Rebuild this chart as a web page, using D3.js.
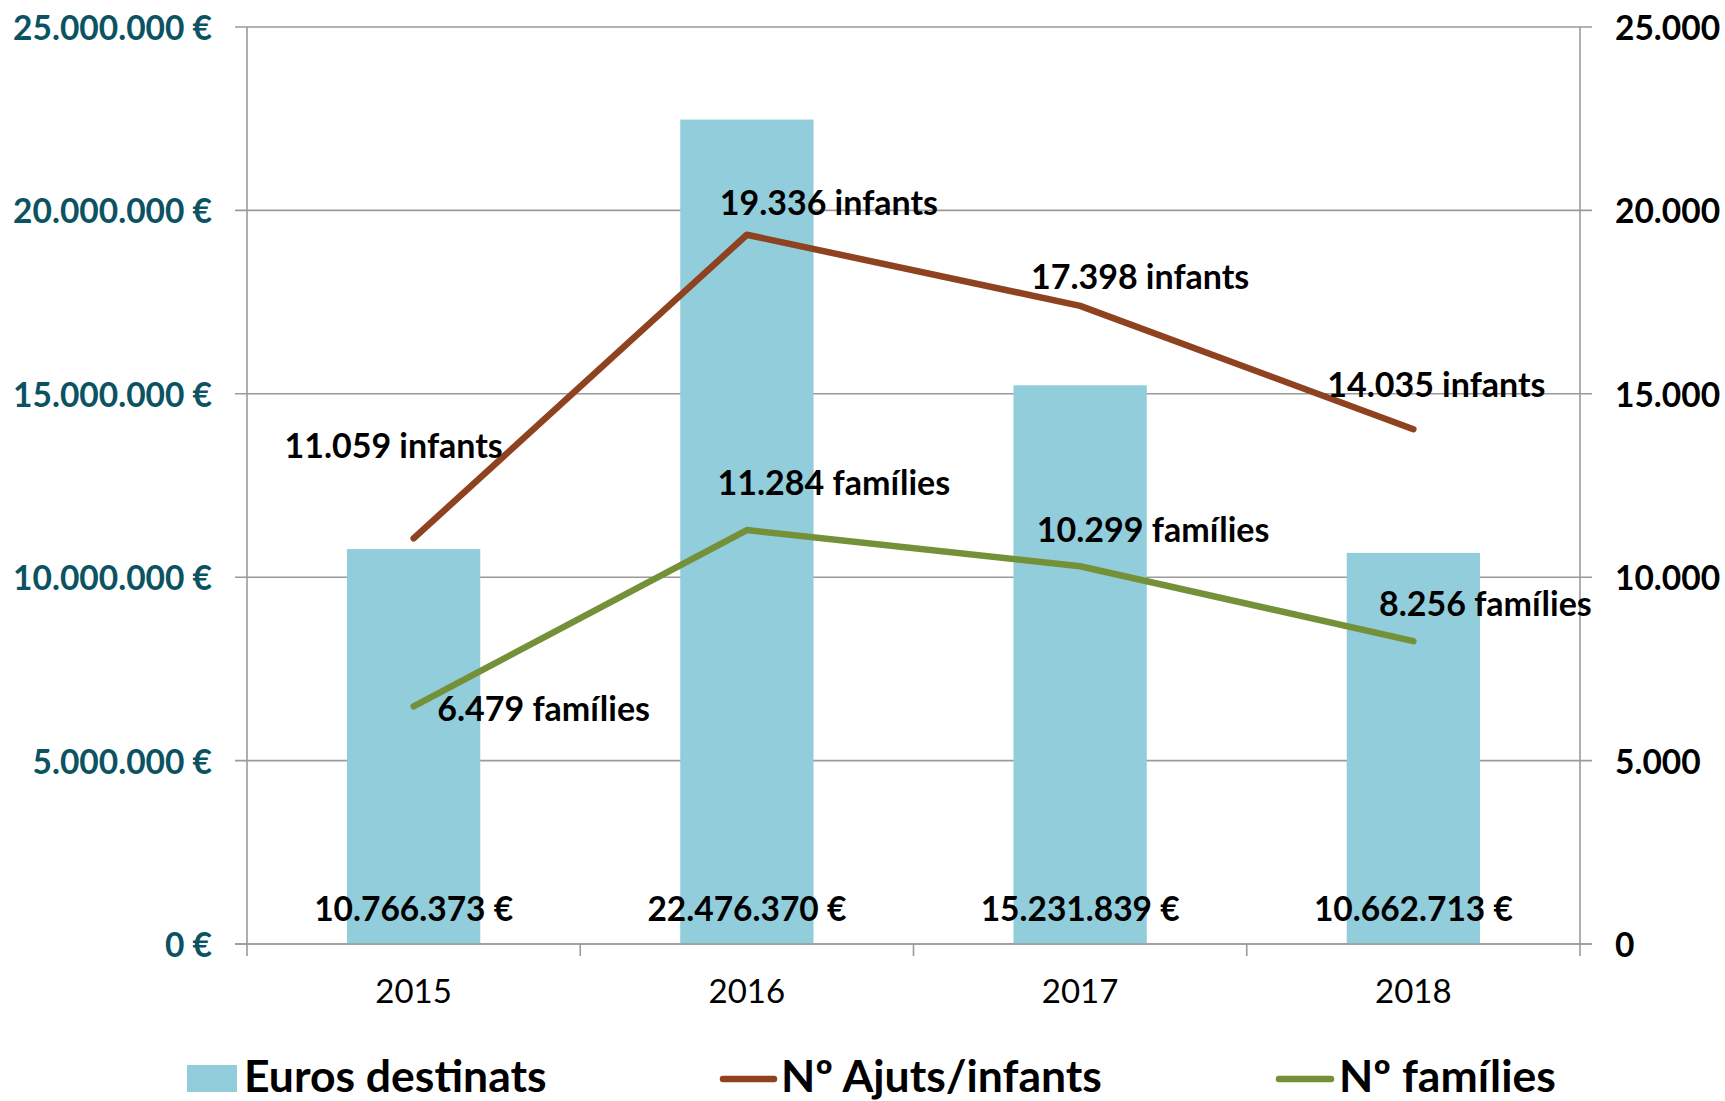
<!DOCTYPE html>
<html>
<head>
<meta charset="utf-8">
<script src="https://cdn.jsdelivr.net/npm/d3@7"></script>
<style>
  html, body { margin: 0; padding: 0; background: #fff; }
  svg { display: block; font-family: Lato, "Open Sans", sans-serif; }
</style>
</head>
<body>
<svg id="chart" width="1725" height="1101"></svg>
<script>
// ---- Data ----
const years = ["2015", "2016", "2017", "2018"];
const euros = [10766373, 22476370, 15231839, 10662713];
const infants = [11059, 19336, 17398, 14035];
const families = [6479, 11284, 10299, 8256];
const leftTicks = [0, 5000000, 10000000, 15000000, 20000000, 25000000];
const rightTicks = [0, 5000, 10000, 15000, 20000, 25000];
const legendLabels = ["Euros destinats", "Nº Ajuts/infants", "Nº famílies"];

// label offsets (layout, pixels from the point)
const infantLabelOffsets = [[-20, -94], [82, -33], [60, -30], [23, -46]];
const familyLabelOffsets = [[130, 1], [87, -49], [73, -38], [72, -39]];

// ---- Styles ----
const barColor = "#92cddc";
const infantColor = "#8f421f";
const familyColor = "#74913a";
const gridColor = "#9a9a9a";
const leftLabelColor = "#0b5363";

const svg = d3.select("#chart");
const pLeft = 247, pRight = 1580, pTop = 27, pBottom = 944;

const fmt = d3.formatLocale({decimal: ",", thousands: ".", grouping: [3], currency: ["", " €"]});
const fmtInt = fmt.format(",d");

const x = d3.scaleBand().domain(years).range([pLeft, pRight]).paddingInner(0.6).paddingOuter(0.3);
const xStep = d3.scaleBand().domain(years).range([pLeft, pRight]).padding(0);
const yL = d3.scaleLinear().domain([0, 25000000]).range([pBottom, pTop]);
const yR = d3.scaleLinear().domain([0, 25000]).range([pBottom, pTop]);
const cx = d => x(d) + x.bandwidth() / 2;

// gridlines
svg.append("g").selectAll("line").data(leftTicks).join("line")
  .attr("x1", pLeft - 12).attr("x2", pRight + 12)
  .attr("y1", d => yL(d)).attr("y2", d => yL(d))
  .attr("stroke", gridColor).attr("stroke-width", 1.6);

// bars
svg.append("g").selectAll("rect").data(euros).join("rect")
  .attr("x", (d, i) => x(years[i]))
  .attr("width", x.bandwidth())
  .attr("y", d => yL(d))
  .attr("height", d => yL(0) - yL(d))
  .attr("fill", barColor);

// axes lines
const axisG = svg.append("g").attr("stroke", gridColor).attr("stroke-width", 1.6);
axisG.append("line").attr("x1", pLeft).attr("x2", pLeft).attr("y1", pTop).attr("y2", pBottom + 12);
axisG.append("line").attr("x1", pRight).attr("x2", pRight).attr("y1", pTop).attr("y2", pBottom + 12);
axisG.append("line").attr("x1", pLeft - 12).attr("x2", pRight + 12).attr("y1", pBottom).attr("y2", pBottom);
axisG.selectAll(".xt").data(years.slice(1)).join("line").attr("class", "xt")
  .attr("x1", d => xStep(d)).attr("x2", d => xStep(d))
  .attr("y1", pBottom).attr("y2", pBottom + 12);

// left axis labels
svg.append("g").selectAll("text").data(leftTicks).join("text")
  .attr("x", 212).attr("y", d => yL(d))
  .attr("text-anchor", "end").attr("dominant-baseline", "central")
  .attr("font-size", 33.5).attr("font-weight", 700).attr("fill", leftLabelColor)
  .text(d => fmtInt(d) + " €");

// right axis labels
svg.append("g").selectAll("text").data(rightTicks).join("text")
  .attr("x", 1615).attr("y", d => yR(d))
  .attr("text-anchor", "start").attr("dominant-baseline", "central")
  .attr("font-size", 33.5).attr("font-weight", 700).attr("fill", "#000")
  .text(d => fmtInt(d));

// x labels
svg.append("g").selectAll("text").data(years).join("text")
  .attr("x", d => cx(d)).attr("y", 1003)
  .attr("text-anchor", "middle")
  .attr("font-size", 33).attr("fill", "#000")
  .text(d => d);

// lines
const lineGen = d3.line().x((d, i) => cx(years[i])).y(d => yR(d));
svg.append("path").datum(infants).attr("d", lineGen)
  .attr("fill", "none").attr("stroke", infantColor).attr("stroke-width", 6.5)
  .attr("stroke-linecap", "round").attr("stroke-linejoin", "round");
svg.append("path").datum(families).attr("d", lineGen)
  .attr("fill", "none").attr("stroke", familyColor).attr("stroke-width", 6.5)
  .attr("stroke-linecap", "round").attr("stroke-linejoin", "round");

// bar labels
svg.append("g").selectAll("text").data(euros).join("text")
  .attr("x", (d, i) => cx(years[i])).attr("y", 921)
  .attr("text-anchor", "middle")
  .attr("font-size", 33.5).attr("font-weight", 700).attr("fill", "#000")
  .text(d => fmtInt(d) + " €");

// line labels
svg.append("g").selectAll("text").data(infants).join("text")
  .attr("x", (d, i) => cx(years[i]) + infantLabelOffsets[i][0])
  .attr("y", (d, i) => yR(d) + infantLabelOffsets[i][1])
  .attr("text-anchor", "middle").attr("dominant-baseline", "central")
  .attr("font-size", 34).attr("font-weight", 700).attr("fill", "#000")
  .text(d => fmtInt(d) + " infants");
svg.append("g").selectAll("text").data(families).join("text")
  .attr("x", (d, i) => cx(years[i]) + familyLabelOffsets[i][0])
  .attr("y", (d, i) => yR(d) + familyLabelOffsets[i][1])
  .attr("text-anchor", "middle").attr("dominant-baseline", "central")
  .attr("font-size", 34).attr("font-weight", 700).attr("fill", "#000")
  .text(d => fmtInt(d) + " famílies");

// legend
const lg = svg.append("g");
lg.append("rect").attr("x", 187).attr("y", 1065).attr("width", 50).attr("height", 27).attr("fill", barColor);
lg.append("line").attr("x1", 723).attr("x2", 774).attr("y1", 1079).attr("y2", 1079)
  .attr("stroke", infantColor).attr("stroke-width", 6.5).attr("stroke-linecap", "round");
lg.append("line").attr("x1", 1279).attr("x2", 1331).attr("y1", 1079).attr("y2", 1079)
  .attr("stroke", familyColor).attr("stroke-width", 6.5).attr("stroke-linecap", "round");
const legendX = [244, 781, 1339];
lg.selectAll("text").data(legendLabels).join("text")
  .attr("x", (d, i) => legendX[i]).attr("y", 1092)
  .attr("font-size", 44.5).attr("font-weight", 700).attr("fill", "#000")
  .text(d => d);
</script>
</body>
</html>
